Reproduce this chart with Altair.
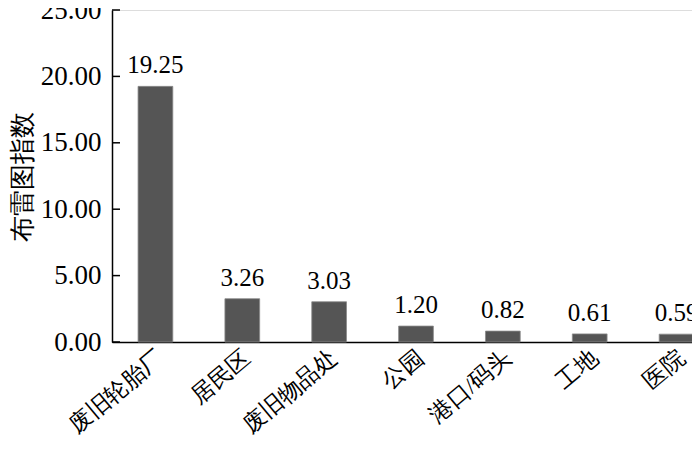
import altair as alt
import pandas as pd

categories = ["废旧轮胎厂", "居民区", "废旧物品处", "公园", "港口/码头", "工地", "医院"]
values = [19.25, 3.26, 3.03, 1.20, 0.82, 0.61, 0.59]
y_ticks = [0, 5, 10, 15, 20, 25]

df = pd.DataFrame({"cat": categories, "val": values, "lab": [f"{v:.2f}" for v in values]})
ticks_df = pd.DataFrame({"t": y_ticks})

FONT = "Liberation Serif, DejaVu Serif, serif"

x_enc = alt.X("cat:N", sort=categories,
              scale=alt.Scale(paddingInner=0.6, paddingOuter=0.3, range=[0, 608]),
              axis=alt.Axis(title=None, labelAngle=320, labelAlign="right", labelBaseline="top",
                            labelPadding=4, labelOffset=-2, labelFontSize=23, labelFont=FONT, labelColor="black",
                            ticks=False, domainColor="black", domainWidth=1.5, labelOverlap=False))
y_scale = alt.Scale(domain=[0, 25], nice=False)
y_enc = alt.Y("val:Q", scale=y_scale,
              axis=alt.Axis(title="布雷图指数", values=y_ticks, format=".2f", ticks=False, grid=False,
                            labelFontSize=27, labelFont=FONT, labelColor="black", labelPadding=11,
                            labelFontWeight="normal",
                            domainColor="black", domainWidth=1.5,
                            titleFont=FONT, titleFontSize=26, titleFontWeight="normal", titleColor="black",
                            titleAngle=270, titleX=-90, titleY=166, titleBaseline="middle", titleAlign="center"))

bars = alt.Chart(df).mark_bar(color="#555555", stroke="#8a8a8a", strokeWidth=0.8).encode(x=x_enc, y=y_enc)
labels = alt.Chart(df).mark_text(font=FONT, fontSize=25, color="black", baseline="alphabetic", dy=-13).encode(
    x=alt.X("cat:N", sort=categories), y=alt.Y("val:Q"), text="lab:N")
tickmarks = alt.Chart(ticks_df).mark_rule(color="black", strokeWidth=1.5).encode(
    y=alt.Y("t:Q", scale=y_scale), x=alt.value(0), x2=alt.value(8))

chart = alt.layer(bars, labels, tickmarks).properties(
    width=580, height=332,
    autosize=alt.AutoSizeParams(type="none"),
    padding={"left": 104, "top": 2, "right": 0, "bottom": 99},
).configure_view(stroke=None).configure(font=FONT)

chart.save("out.html", embed_options={"renderer": "svg", "actions": False})
